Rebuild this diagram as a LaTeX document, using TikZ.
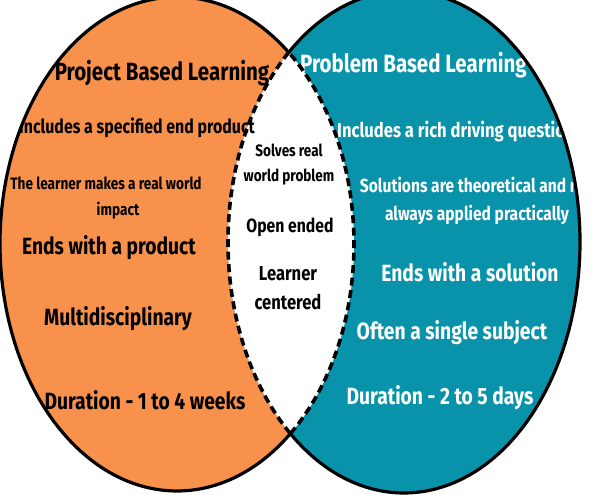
\documentclass[tikz,border=0pt]{standalone}
\usepackage{fontspec}
\setmainfont{Fira Sans}[FakeStretch=0.82]
\definecolor{pblorange}{HTML}{F8914B}
\definecolor{pblteal}{HTML}{0893AA}
\begin{document}
\begin{tikzpicture}[x=1pt,y=1pt,
  lbl/.style={align=center, inner sep=0pt},
  ttitle/.style={lbl, font=\bfseries\fontsize{25}{28}\selectfont},
  tbig/.style={lbl, font=\bfseries\fontsize{23.5}{28}\selectfont},
  tmid/.style={lbl, font=\bfseries\fontsize{19.4}{28}\selectfont},
  tsmall/.style={lbl, font=\bfseries\fontsize{16.5}{25}\selectfont},
  solidedge/.style={line width=3.2pt},
  dashedge/.style={line width=3.6pt, dash pattern=on 8pt off 4.5pt},
  onleft/.style={text=black},
  onright/.style={text=white},
  leftshape/.style={x radius=177pt, y radius=247pt},
  rightshape/.style={x radius=176pt, y radius=251pt}]
\useasboundingbox (0,0) rectangle (600,495);
\clip (0,0) rectangle (600,495);
\fill[white] (0,0) rectangle (600,495);
% fills
\fill[pblorange] (177,251) ellipse [leftshape];
\fill[pblteal] (404,253) ellipse [rightshape];
\begin{scope}
  \clip (404,253) ellipse [rightshape];
  \fill[white] (177,251) ellipse [leftshape];
\end{scope}
% left texts
\begin{scope}
  \clip (177,251) ellipse [leftshape];
  \node[ttitle, onleft] (pjt) at (162,422) {Project Based Learning};
  \node[tmid, onleft] (l1) at (137,367) {Includes a specified end product};
  \node[tmid, onleft, font=\bfseries\fontsize{16.6}{28}\selectfont] (l2a) at (106,312) {The learner makes a real world};
  \node[tmid, onleft, font=\bfseries\fontsize{16.6}{28}\selectfont] (l2b) at (118,284) {impact};
  \node[tbig, onleft] (l3) at (109,247) {Ends with a product};
  \node[tbig, onleft] (l4) at (118,176) {Multidisciplinary};
  \node[tbig, onleft] (l5) at (145,95) {Duration - 1 to 4 weeks};
\end{scope}
% middle texts
\node[tsmall, onleft] (m1) at (289,330) {Solves real\\world problem};
\node[tmid, onleft, font=\bfseries\fontsize{19.2}{28}\selectfont] (m2) at (290,268) {Open ended};
\node[tmid, onleft, font=\bfseries\fontsize{20.2}{29}\selectfont] (m3) at (288,207) {Learner\\centered};
% right texts
\begin{scope}
  \clip (404,253) ellipse [rightshape];
  \node[ttitle, onright, anchor=west] (pbt) at (300,430) {Problem Based Learning};
  \node[tmid, onright, anchor=west, font=\bfseries\fontsize{20.2}{28}\selectfont] (r1) at (337,363) {Includes a rich driving question};
  \node[tmid, onright, font=\bfseries\fontsize{19}{28}\selectfont] (r2) at (477,294) {Solutions are theoretical and not\\always applied practically};
  \node[tbig, onright] (r3) at (470,223) {Ends with a solution};
  \node[tbig, onright] (r4) at (452,162) {Often a single subject};
  \node[tbig, onright] (r5) at (440,97) {Duration - 2 to 5 days};
\end{scope}
% outlines
\draw[solidedge] ([shift={(177,251)}]50.87:177pt and 247pt)
  arc[start angle=50.87, end angle=309.82, leftshape];
\draw[solidedge] ([shift={(404,253)}]-130.24:176pt and 251pt)
  arc[start angle=-130.24, end angle=130.93, rightshape];
\draw[dashedge] ([shift={(177,251)}]-50.18:177pt and 247pt)
  arc[start angle=-50.18, end angle=50.87, leftshape];
\draw[dashedge] ([shift={(404,253)}]130.93:176pt and 251pt)
  arc[start angle=130.93, end angle=229.76, rightshape];
\end{tikzpicture}
\end{document}
